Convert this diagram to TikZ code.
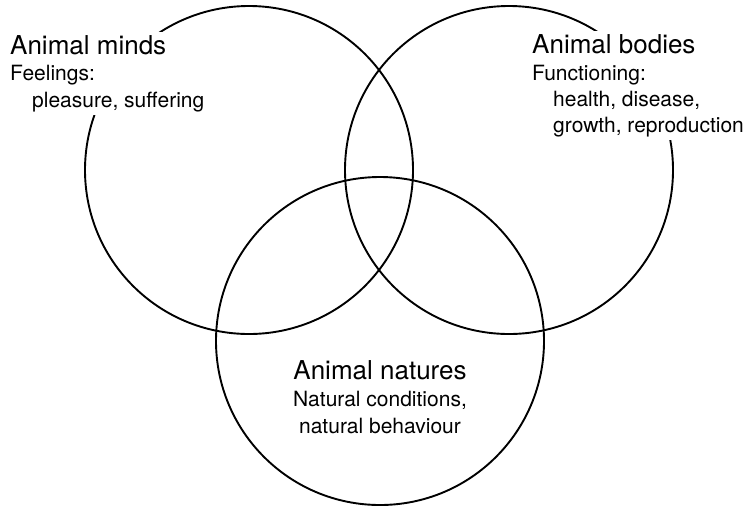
\documentclass[tikz,border=0pt]{standalone}
\usepackage{fontspec}
\setmainfont{TeX Gyre Heros}
\usetikzlibrary{fit,backgrounds}

\begin{document}
\begin{tikzpicture}[x=1pt, y=-1pt,
  ring/.style={line width=1.9pt},
  head/.style={anchor=base west, inner sep=0pt, font=\fontsize{26}{30}\selectfont},
  body/.style={anchor=base west, inner sep=0pt, font=\fontsize{21}{25}\selectfont},
  blank/.style={fill=white, inner sep=3pt}
]
\useasboundingbox (0,0) rectangle (749,507);
\def\R{164}
% animal minds
\node[head] (mT) at (10,54) {Animal minds};
\node[body] (mF) at (10,80) {Feelings:};
\node[body] (mP) at (32,107) {pleasure, suffering};
% animal bodies
\node[head] (bT) at (532,53) {Animal bodies};
\node[body] (bF) at (532,80) {Functioning:};
\node[body] (bH) at (553,106) {health, disease,};
\node[body] (bG) at (553,132) {growth, reproduction};
% animal natures
\node[head, anchor=base] (nT) at (380,379) {Animal natures};
\node[body, anchor=base] (nC) at (380,406) {Natural conditions,};
\node[body, anchor=base] (nB) at (380,433) {natural behaviour};

\begin{scope}[on background layer]
  % circles
  \coordinate (cm) at (249,170);
  \coordinate (cb) at (509,170);
  \coordinate (cn) at (380,341);
  \draw[ring] (cm) circle (\R pt);
  \draw[ring] (cb) circle (\R pt);
  \draw[ring] (cn) circle (\R pt);
  % gaps behind the labels
  \node[blank, fit=(mT)(mF)(mP)] (mBox) {};
  \node[blank, fit=(bT)(bF)(bH)(bG)] (bBox) {};
\end{scope}
\end{tikzpicture}
\end{document}
